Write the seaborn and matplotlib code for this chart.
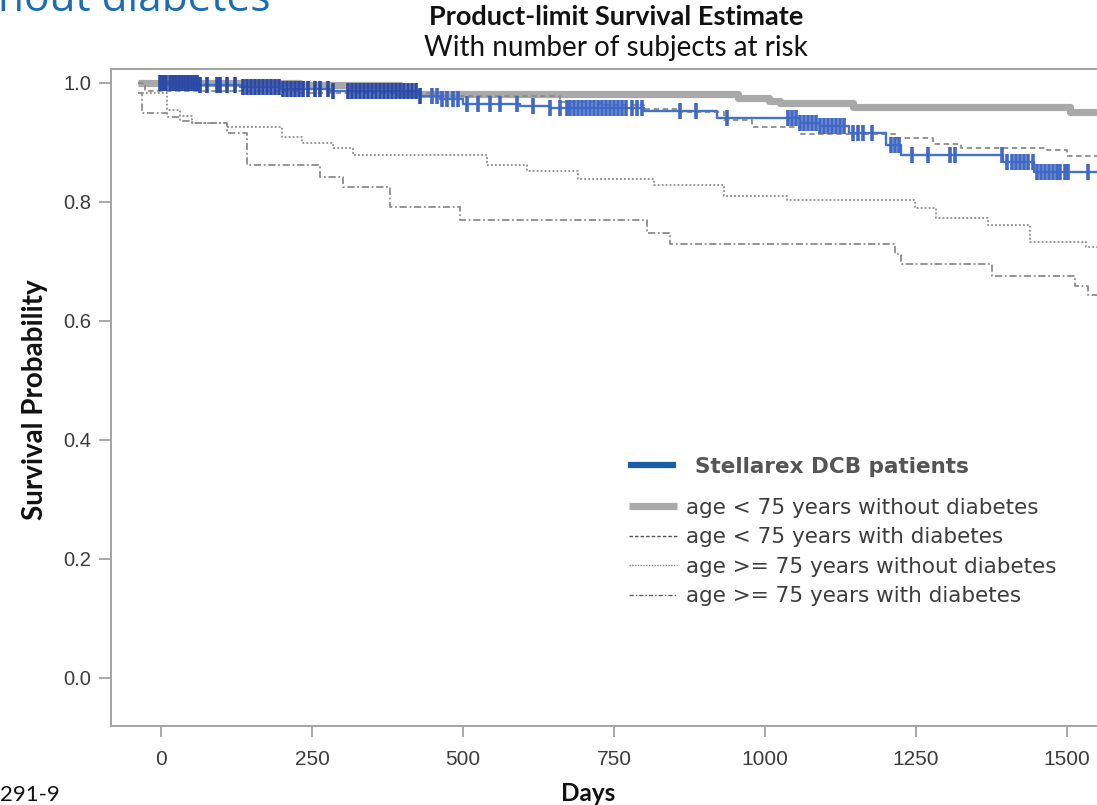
import numpy as np
import pandas as pd
import matplotlib
matplotlib.use("Agg")
import matplotlib.pyplot as plt
import seaborn as sns
from matplotlib.lines import Line2D

# ---------------- data (days, survival probability) ----------------
dcb_days = [0, 65, 131, 197, 280, 429, 462, 500, 594, 644, 800, 920, 1058, 1091,
            1139, 1200, 1225, 1394, 1445, 1570]
dcb_surv = [1.000, 0.997, 0.993, 0.990, 0.987, 0.978, 0.973, 0.965, 0.961, 0.958,
            0.953, 0.941, 0.933, 0.928, 0.916, 0.896, 0.879, 0.867, 0.850, 0.850]
dcb_censor = [-2, 3, 8, 15, 20, 25, 30, 35, 40, 45, 50, 55, 60, 65, 76, 93, 98, 109, 123,
              136, 142, 149, 156, 162, 169, 175, 182, 189, 195, 202, 209, 215, 222, 228, 235,
              243, 255, 263, 276, 285, 310, 316, 323, 329, 336, 343, 349, 356, 363, 369, 376,
              382, 389, 396, 402, 409, 416, 422, 429, 449, 457, 465, 473, 483, 492, 507, 525,
              545, 561, 589, 616, 644, 661, 672, 677, 684, 690, 697, 704, 710, 717, 723, 730,
              737, 743, 750, 757, 763, 770, 780, 788, 796, 859, 886, 937, 1038, 1045, 1051,
              1058, 1065, 1071, 1078, 1084, 1091, 1098, 1104, 1111, 1118, 1124, 1131, 1146,
              1154, 1162, 1177, 1209, 1215, 1222, 1243, 1270, 1306, 1315, 1392, 1401, 1409,
              1416, 1422, 1429, 1435, 1444, 1450, 1457, 1464, 1470, 1477, 1483, 1488, 1497,
              1502, 1535]

young_nodm_days = [-38, 230, 396, 955, 1007, 1025, 1145, 1505, 1570]
young_nodm_surv = [1.000, 0.997, 0.982, 0.975, 0.970, 0.966, 0.959, 0.951, 0.951]

young_dm_days = [-38, -26, 230, 462, 661, 727, 800, 858, 932, 978, 1060, 1215, 1278,
                 1325, 1467, 1500, 1570]
young_dm_surv = [1.000, 0.987, 0.983, 0.978, 0.968, 0.963, 0.956, 0.951, 0.938, 0.926,
                 0.915, 0.908, 0.897, 0.891, 0.887, 0.877, 0.877]

old_nodm_days = [-38, 10, 31, 51, 109, 200, 233, 285, 318, 540, 606, 690, 816, 932,
                 1036, 1248, 1283, 1369, 1439, 1531, 1570]
old_nodm_surv = [0.983, 0.955, 0.945, 0.933, 0.926, 0.909, 0.899, 0.891, 0.879, 0.862,
                 0.852, 0.839, 0.829, 0.810, 0.803, 0.790, 0.773, 0.761, 0.733, 0.725, 0.725]

old_dm_days = [-38, -31, 10, 31, 51, 109, 142, 263, 301, 379, 495, 805, 843, 1215,
               1225, 1376, 1513, 1535, 1570]
old_dm_surv = [0.983, 0.950, 0.943, 0.936, 0.933, 0.916, 0.862, 0.842, 0.825, 0.792,
               0.770, 0.748, 0.729, 0.713, 0.696, 0.676, 0.659, 0.644, 0.644]

x_ticks = [0, 250, 500, 750, 1000, 1250, 1500]
y_ticks = [0.0, 0.2, 0.4, 0.6, 0.8, 1.0]
legend_main = "Stellarex DCB patients"
legend_groups = ["age < 75 years without diabetes", "age < 75 years with diabetes",
                 "age >= 75 years without diabetes", "age >= 75 years with diabetes"]

# ---------------- figure ----------------
sns.set_theme(style="white")
plt.rcParams["font.family"] = ["DejaVu Sans"]

W, H = 1097, 805
fig = plt.figure(figsize=(W / 100, H / 100), dpi=100)
fig.patch.set_facecolor("white")

def fx(px):
    return px / W

def fy(py):
    return 1 - py / H

ax = fig.add_axes([fx(111), fy(726), fx(1105) - fx(111), fy(69) - fy(726)])
ax.set_facecolor("white")

grey_thin = "#8c8c8c"

def step(days, surv, **kw):
    df = pd.DataFrame({"day": days, "surv": surv})
    sns.lineplot(data=df, x="day", y="surv", ax=ax, estimator=None, sort=False,
                 drawstyle="steps-post", legend=False, **kw)

step(young_nodm_days, young_nodm_surv, color="#a9a9a9", linewidth=5.2,
     solid_capstyle="butt", zorder=2)
step(young_dm_days, young_dm_surv, color=grey_thin, linewidth=1.3,
     linestyle=(0, (3, 2)), zorder=3)
step(old_nodm_days, old_nodm_surv, color=grey_thin, linewidth=1.3,
     linestyle=(0, (1, 1.2)), zorder=3)
step(old_dm_days, old_dm_surv, color=grey_thin, linewidth=1.3,
     linestyle=(0, (4, 1.5, 1, 1.5)), zorder=3)
step(dcb_days, dcb_surv, color="#4472c4", linewidth=1.7, zorder=4)

# censor marks on the DCB curve
d_arr = np.array(dcb_days)
s_arr = np.array(dcb_surv)
cens = np.array(dcb_censor)
idx = np.clip(np.searchsorted(d_arr, cens, side="right") - 1, 0, len(d_arr) - 1)
cdf = pd.DataFrame({"day": cens, "surv": s_arr[idx]})
early = cdf["day"] < 440
ax.plot(cdf.loc[~early, "day"], cdf.loc[~early, "surv"], linestyle="none", marker="|",
        markersize=11, markeredgewidth=2.6, color="#4068c4", zorder=5)
ax.plot(cdf.loc[early, "day"], cdf.loc[early, "surv"], linestyle="none", marker="|",
        markersize=11, markeredgewidth=2.6, color="#2a4aa6", zorder=5)

ax.set_xlim(-82.8, 1563)
ax.set_ylim(-0.0807, 1.0235)
ax.set_xticks(x_ticks)
ax.set_yticks(y_ticks)
ax.set_xticklabels([str(t) for t in x_ticks], fontfamily="Liberation Sans",
                   fontsize=15, color="#3c3c3c")
ax.set_yticklabels([f"{t:.1f}" for t in y_ticks], fontfamily="Liberation Sans",
                   fontsize=14.5, color="#3c3c3c")
ax.tick_params(axis="y", direction="out", length=9, width=1.2, color="#9a9a9a",
               pad=5, left=True)
ax.tick_params(axis="x", direction="out", length=8, width=1.2, color="#9a9a9a",
               pad=9, bottom=True)
for side in ["left", "bottom", "top", "right"]:
    ax.spines[side].set_color("#a3a3a3")
    ax.spines[side].set_linewidth(1.4)
ax.set_xlabel("")
ax.set_ylabel("")

# ---------------- legends ----------------
h_main = [Line2D([], [], color="#1c5ea6", linewidth=4.5, solid_capstyle="butt")]
leg1 = ax.legend(h_main, [legend_main], loc="upper left",
                 bbox_to_anchor=(fx(628), fy(457)), bbox_transform=fig.transFigure,
                 frameon=False, borderpad=0, borderaxespad=0, handlelength=2.25,
                 handletextpad=0.85, prop={"family": "DejaVu Sans", "weight": "bold",
                                           "size": 15.5})
for t in leg1.get_texts():
    t.set_color("#555555")
ax.add_artist(leg1)

h_groups = [
    Line2D([], [], color="#a9a9a9", linewidth=5.2, solid_capstyle="butt"),
    Line2D([], [], color="#505050", linewidth=1.0, linestyle=(0, (2.5, 1.5))),
    Line2D([], [], color="#8a8a8a", linewidth=1.0, linestyle=(0, (1, 1))),
    Line2D([], [], color="#606060", linewidth=1.0, linestyle=(0, (3, 1.5, 1, 1.5))),
]
leg2 = ax.legend(h_groups, legend_groups, loc="upper left",
                 bbox_to_anchor=(fx(629), fy(498)), bbox_transform=fig.transFigure,
                 frameon=False, borderpad=0, borderaxespad=0, handlelength=2.25,
                 handletextpad=0.42, labelspacing=0.44,
                 prop={"family": "DejaVu Sans", "size": 15.5})
for t in leg2.get_texts():
    t.set_color("#3d3d3d")

# ---------------- texts ----------------
fig.text(fx(-2), fy(11), "hout diabetes", fontfamily="Open Sans", fontsize=30.5,
         color="#1b6db1", ha="left", va="baseline")
fig.text(fx(616), fy(25), "Product-limit Survival Estimate", fontfamily="Lato",
         fontweight="bold", fontsize=19.5, color="#111111", ha="center", va="baseline")
fig.text(fx(616), fy(56), "With number of subjects at risk", fontfamily="Lato",
         fontsize=20, color="#111111", ha="center", va="baseline")
fig.text(fx(35), fy(400), "Survival Probability", fontfamily="Lato",
         fontweight="bold", fontsize=20, color="#111111", ha="center", va="center",
         rotation=90)
fig.text(fx(588), fy(801), "Days", fontfamily="Lato", fontweight="bold",
         fontsize=17.5, color="#111111", ha="center", va="baseline")
fig.text(fx(0), fy(801), "291-9", fontfamily="Lato", fontsize=16,
         color="#111111", ha="left", va="baseline")

fig.savefig("out.png", dpi=100, facecolor="white")
